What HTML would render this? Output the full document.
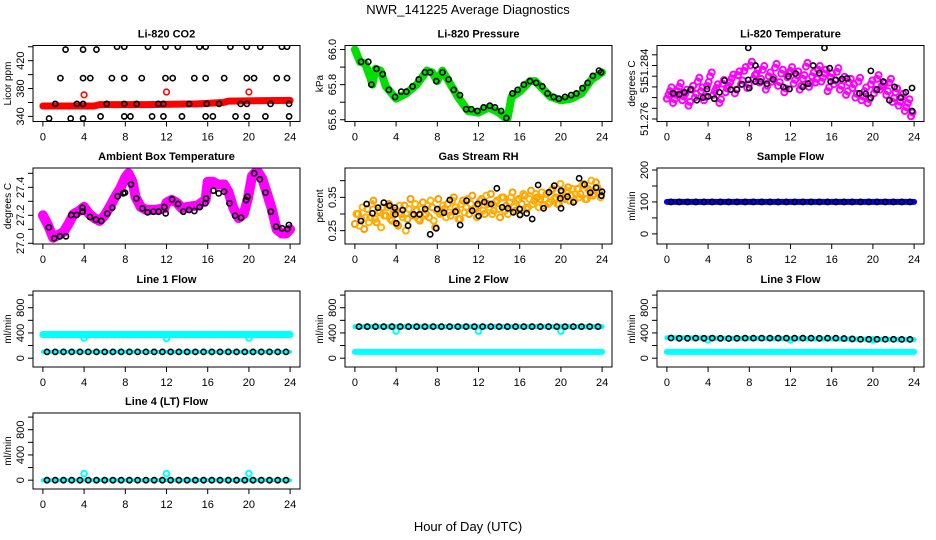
<!DOCTYPE html>
<html><head><meta charset="utf-8"><style>
html,body{margin:0;padding:0;background:#fff;}
svg{display:block;font-family:"Liberation Sans",sans-serif;}
</style></head><body>
<svg id="chart" width="936" height="540" viewBox="0 0 936 540" xmlns="http://www.w3.org/2000/svg">
<text x="468" y="14" text-anchor="middle" font-size="13">NWR_141225  Average Diagnostics</text>
<text x="468" y="531" text-anchor="middle" font-size="13">Hour of Day (UTC)</text>
</svg>
<script>
// ---------- DATA ----------
const xTicks = [0,4,8,12,16,20,24];
// CO2
const co2BandHours = [0,5,5.5,10,15,17.5,18,24];
const co2BandVals = [355,355,357,357,358,360,362,363];
const co2RedHours = [4,12,20];
const co2RedVals = [371,375,375];
const co2BlackHours = [7.2,7.9,10.2,11.9,13.1,15.2,15.8,18.2,19.8,21.1,23.2,23.7,2.2,3.9,5.2,1.7,3.9,4.6,6.7,7.9,9.6,11.9,12.6,14.7,15.8,17.6,19.8,20.5,22.7,23.7,1.2,3.3,3.9,6.2,7.9,9.1,11.2,11.7,14.2,15.9,17.1,19.2,19.8,22.1,23.9,5.6,7.9,8.5,10.6,11.7,13.5,15.8,16.5,18.7,19.8,21.6,23.9,0.6,2.7,3.9];
const co2BlackVals = [440,440,440,440,440,440,440,440,440,440,440,440,436,436,436,395,395,395,395,395,395,395,395,395,395,395,395,395,395,395,358,358,358,358,358,358,358,358,358,358,358,358,358,358,358,340,340,340,340,340,340,340,340,340,340,340,340,337,337,337];
// Pressure
const presBandHours = [0,0.5,1,1.5,1.7,2,2.5,3,4,5,6,7,7.5,8,8.5,9,10,11,12,13,14,14.8,15.2,16,17,17.5,18,19,20,21,22,23,24];
const presBandVals = [66.0,65.93,65.92,65.84,65.8,65.89,65.88,65.79,65.72,65.75,65.8,65.88,65.87,65.82,65.88,65.83,65.73,65.65,65.64,65.67,65.64,65.6,65.73,65.76,65.82,65.82,65.79,65.73,65.71,65.72,65.75,65.83,65.87];
const presBlackHours = [0.6,1.3,1.6,2.1,2.7,3.3,3.9,4.5,5.0,5.6,6.2,6.8,7.3,7.9,8.5,9.1,9.6,10.2,10.8,11.3,11.9,12.5,13.1,13.6,14.2,14.7,15.3,15.8,16.4,17.0,17.6,18.2,18.7,19.3,19.8,20.4,21.0,21.5,22.1,22.6,23.1,23.7,23.9];
const presBlackVals = [65.93,65.93,65.8,65.89,65.86,65.77,65.73,65.76,65.76,65.79,65.83,65.87,65.87,65.82,65.87,65.83,65.77,65.74,65.66,65.66,65.65,65.67,65.68,65.67,65.65,65.61,65.75,65.77,65.8,65.82,65.81,65.79,65.75,65.73,65.72,65.73,65.74,65.75,65.78,65.81,65.85,65.88,65.87];
// Li-820 temperature
const tempPinkHours = [0,0.3,0.6,0.9,1.2,1.5,1.8,2.1,2.4,2.7,3,3.3,3.6,3.9,4.2,4.5,4.8,5.1,5.4,5.7,6,6.3,6.6,6.9,7.2,7.5,7.8,8.1,8.4,8.7,9,9.3,9.6,9.9,10.2,10.5,10.8,11.1,11.4,11.7,12,12.3,12.6,12.9,13.2,13.5,13.8,14.1,14.4,14.7,15,15.3,15.6,15.9,16.2,16.5,16.8,17.1,17.4,17.7,18,18.3,18.6,18.9,19.2,19.5,19.8,20.1,20.4,20.7,21,21.3,21.6,21.9,22.2,22.5,22.8,23.1,23.4,23.7];
const tempPinkVals = [51.2798,51.2812,51.2790,51.2805,51.2820,51.2795,51.2808,51.2785,51.2815,51.2800,51.2830,51.2812,51.2795,51.2822,51.2840,51.2805,51.2818,51.2790,51.2826,51.2810,51.2822,51.2836,51.2808,51.2842,51.2825,51.2850,51.2818,51.2860,51.2835,51.2845,51.2828,51.2852,51.2815,51.2840,51.2830,51.2856,51.2822,51.2845,51.2810,51.2838,51.2850,51.2826,51.2842,51.2815,51.2835,51.2858,51.2820,51.2840,51.2828,51.2852,51.2830,51.2845,51.2812,51.2838,51.2825,51.2848,51.2815,51.2832,51.2805,51.2828,51.2818,51.2800,51.2830,51.2795,51.2812,51.2790,51.2825,51.2808,51.2835,51.2815,51.2820,51.2805,51.2828,51.2792,51.2810,51.2785,51.2800,51.2775,51.2790,51.2765];
const tempBlackHours = [0.6,1.2,1.7,2.3,2.9,3.5,3.9,4.0,4.6,5.1,5.6,6.2,6.8,7.3,7.9,8.0,8.6,7.9,8.6,9.1,9.7,10.3,11.3,11.8,11.9,12.5,13.2,13.7,14.2,14.8,15.3,15.8,15.9,16.4,17.0,17.5,18.7,19.3,19.8,19.8,20.4,21.0,21.6,22.1,22.7,23.2,23.8,23.8];
const tempBlackVals = [51.2808,51.2806,51.2810,51.2815,51.2795,51.2800,51.2816,51.2802,51.2798,51.2810,51.2832,51.2815,51.2815,51.2825,51.2833,51.2818,51.2830,51.2893,51.2860,51.2830,51.2826,51.2834,51.2820,51.2840,51.2816,51.2845,51.2820,51.2826,51.2860,51.2846,51.2893,51.2855,51.2830,51.2833,51.2835,51.2836,51.2808,51.2807,51.2850,51.2800,51.2815,51.2830,51.2795,51.2820,51.2800,51.2810,51.2818,51.2775];
const tempTickVals = [51.276,51.278,51.280,51.282,51.284,51.286,51.288];
const tempTickLabels = ['51.276','','','51','','51.284',''];
// Ambient box temperature
const ambBandHours = [0,0.5,1,1.5,2,2.5,3,3.5,4,4.5,5,5.5,6,6.5,7,7.5,8,8.3,8.7,9,9.5,10,11,11.8,12,12.5,13,13.5,14,15,15.8,16,16.5,17,17.6,18,18.5,19,19.5,19.9,20.3,20.8,21.3,21.7,22.2,22.7,23.2,23.6,24];
const ambBandVals = [27.2,27.13,27.04,27.06,27.08,27.14,27.21,27.23,27.26,27.21,27.18,27.16,27.2,27.26,27.33,27.39,27.47,27.5,27.44,27.33,27.26,27.24,27.24,27.25,27.29,27.31,27.29,27.25,27.26,27.27,27.31,27.44,27.44,27.42,27.42,27.37,27.25,27.18,27.21,27.32,27.48,27.52,27.46,27.37,27.25,27.1,27.07,27.07,27.1];
const ambBlackHours = [0.58,1.10,1.65,2.24,2.75,3.27,3.85,3.85,4.57,5.15,5.67,6.25,6.74,7.26,7.8,7.97,8.55,9.07,9.65,10.17,10.72,11.24,11.79,11.92,12.54,13.12,13.63,14.19,14.7,15.23,15.77,15.84,16.55,17.07,17.59,18.11,18.66,19.24,19.73,19.86,20.51,21.06,21.61,22.13,22.64,23.22,23.74,23.88];
const ambBlackVals = [27.114,27.036,27.05,27.05,27.202,27.202,27.254,27.226,27.188,27.169,27.16,27.212,27.254,27.336,27.357,27.362,27.421,27.321,27.25,27.221,27.226,27.226,27.259,27.214,27.314,27.281,27.226,27.238,27.231,27.259,27.286,27.321,27.376,27.357,27.369,27.286,27.197,27.183,27.309,27.333,27.5,27.457,27.362,27.226,27.119,27.107,27.102,27.131];
// Gas stream RH
const rhOrangeHours = tempPinkHours.slice();
const rhOrangeVals = [0.270,0.300,0.285,0.255,0.315,0.290,0.340,0.275,0.305,0.320,0.295,0.330,0.280,0.310,0.265,0.300,0.325,0.285,0.345,0.295,0.310,0.280,0.335,0.300,0.290,0.320,0.260,0.345,0.305,0.315,0.330,0.295,0.350,0.310,0.285,0.340,0.320,0.300,0.355,0.315,0.325,0.345,0.300,0.330,0.360,0.310,0.340,0.290,0.350,0.325,0.335,0.365,0.310,0.345,0.330,0.355,0.320,0.370,0.340,0.350,0.345,0.325,0.360,0.335,0.375,0.350,0.330,0.365,0.345,0.380,0.355,0.340,0.375,0.360,0.390,0.345,0.370,0.355,0.395,0.365];
const rhOrange2Vals = [0.300,0.265,0.320,0.290,0.275,0.330,0.285,0.310,0.260,0.295,0.320,0.285,0.305,0.270,0.325,0.290,0.250,0.315,0.300,0.330,0.285,0.315,0.295,0.325,0.340,0.280,0.310,0.300,0.325,0.290,0.305,0.340,0.320,0.285,0.330,0.305,0.345,0.330,0.315,0.290,0.340,0.310,0.355,0.320,0.300,0.335,0.315,0.350,0.310,0.300,0.350,0.320,0.340,0.300,0.360,0.315,0.345,0.330,0.360,0.320,0.365,0.345,0.330,0.370,0.345,0.330,0.390,0.350,0.370,0.340,0.375,0.360,0.350,0.385,0.345,0.375,0.400,0.360,0.380,0.350];
const rhBlackHours = [0.59,1.14,1.70,2.25,2.81,3.36,3.88,3.92,4.02,4.64,5.16,5.71,6.27,6.82,7.31,7.9,8.0,8.65,9.21,9.76,10.22,10.84,11.39,11.92,12.01,12.57,13.22,13.78,14.3,14.86,15.38,16.0,16.03,16.68,17.21,17.79,18.32,18.84,19.36,19.95,20.01,20.01,20.64,21.22,21.77,22.3,22.85,23.41,23.99,23.93];
const rhBlackVals = [0.279,0.330,0.302,0.319,0.334,0.325,0.319,0.299,0.272,0.312,0.265,0.299,0.299,0.315,0.239,0.257,0.315,0.304,0.342,0.307,0.267,0.340,0.310,0.330,0.294,0.336,0.330,0.377,0.320,0.317,0.305,0.315,0.297,0.302,0.285,0.387,0.317,0.365,0.385,0.347,0.370,0.317,0.352,0.335,0.407,0.389,0.364,0.379,0.367,0.355];
// Flows
const flowHours = [0.4,1.2,2.0,2.8,3.6,4.4,5.2,6.0,6.8,7.6,8.4,9.2,10.0,10.8,11.6,12.4,13.2,14.0,14.8,15.6,16.4,17.2,18.0,18.8,19.6,20.4,21.2,22.0,22.8,23.6];
const bandHours = [0,24];
const dipHours = [4,12,20];
const sampleBandVals = [100,100];
const sampleBlackVals = [100,100,100,100,100,100,100,100,100,100,100,100,100,100,100,100,100,100,100,100,100,100,100,100,100,100,100,100,100,100];
const line1CyanVals = [375,375];
const line1CyanLowVals = [100,100];
const line1DipVals = [320,312,320];
const line1BlackVals = [100,100,100,100,100,100,100,100,100,100,100,100,100,100,100,100,100,100,100,100,100,100,100,100,100,100,100,100,100,100];
const line2CyanVals = [500,500];
const line2CyanLowVals = [100,100];
const line2DipVals = [430,430,430];
const line2BlackVals = [500,500,500,500,500,500,500,500,500,500,500,500,500,500,500,500,500,500,500,500,500,500,500,500,500,500,500,500,500,500];
const line3CyanVals = [325,295];
const line3CyanLowVals = [100,100];
const line3DipVals = [290,290,290];
const line3BlackVals = [320,315,315,318,315,318,315,312,315,318,318,318,318,318,318,318,318,318,315,318,318,312,305,300,300,300,300,300,298,298];
const line4CyanVals = [0,0];
const line4DipVals = [105,105,105];
const line4BlackVals = [0,0,0,0,0,0,0,0,0,0,0,0,0,0,0,0,0,0,0,0,0,0,0,0,0,0,0,0,0,0];

// ---------- DRAWING ----------
const NS = 'http://www.w3.org/2000/svg';
const svg = document.getElementById('chart');
const rowTops = [45.5,168,291,413];
function el(tag, attrs, parent, name, inter) {
  const e = document.createElementNS(NS, tag);
  for (const k in attrs) e.setAttribute(k, attrs[k]);
  
  
  parent.appendChild(e);
  return e;
}
function panel(id, col, row, title, ylab, ylim, yTicks, yLabels) {
  const g = el('g', {}, svg, id + '-panel', false);
  const L = 33 + 312 * col, W = 267, T = rowTops[row], H = 76;
  const xlim = [-0.96, 24.96];
  const sx = h => L + (h - xlim[0]) / (xlim[1] - xlim[0]) * W;
  const sy = v => T + H - (v - ylim[0]) / (ylim[1] - ylim[0]) * H;
  const t = el('text', {x: L + W / 2, y: T - 8, 'text-anchor': 'middle', 'font-size': 11, 'font-weight': 'bold'}, g, id + '-title', false);
  t.textContent = title;
  const yt = el('text', {x: 0, y: 0, 'text-anchor': 'middle', 'font-size': 10, transform: `translate(${L - 22},${T + H / 2}) rotate(-90)`}, g, id + '-y-axis-title', false);
  yt.textContent = ylab;
  xTicks.forEach(h => {
    el('line', {x1: sx(h), x2: sx(h), y1: T + H, y2: T + H + 5, stroke: '#000', 'stroke-width': 1}, g, id + '-x-tick', false);
    const tx = el('text', {x: sx(h), y: T + H + 19, 'text-anchor': 'middle', 'font-size': 11}, g, id + '-x-tick-label', false);
    tx.textContent = h;
  });
  yTicks.forEach((v, i) => {
    el('line', {x1: L - 5, x2: L, y1: sy(v), y2: sy(v), stroke: '#000', 'stroke-width': 1}, g, id + '-y-tick', false);
    if (yLabels[i]) {
      const ty = el('text', {x: 0, y: 0, 'text-anchor': 'middle', 'font-size': 11, transform: `translate(${L - 9},${sy(v)}) rotate(-90)`}, g, id + '-y-tick-label', false);
      ty.textContent = yLabels[i];
    }
  });
  const clip = el('clipPath', {id: id + '-clip'}, g, id + '-clip', false);
  el('rect', {x: L, y: T, width: W, height: H}, clip, id + '-clip-rect', false);
  const plot = el('g', {'clip-path': `url(#${id}-clip)`}, g, id + '-plot-area', false);
  el('rect', {x: L, y: T, width: W, height: H, fill: 'none', stroke: '#000', 'stroke-width': 1}, g, id + '-frame', false);
  return {plot, sx, sy};
}
function band(p, hours, vals, color, w, name) {
  const pts = hours.map((h, i) => p.sx(h).toFixed(1) + ',' + p.sy(vals[i]).toFixed(1)).join(' ');
  el('polyline', {points: pts, fill: 'none', stroke: color, 'stroke-width': w, 'stroke-linejoin': 'round', 'stroke-linecap': 'round'}, p.plot, name, false);
}
function pts(p, hours, vals, color, r, sw, name) {
  hours.forEach((h, i) => {
    el('circle', {cx: p.sx(h), cy: p.sy(vals[i]), r: r, fill: 'none', stroke: color, 'stroke-width': sw}, p.plot, name, false);
  });
}
const flowTicks = [0,200,400,600,800,1000];
const flowLabels = ['0','','400','','800',''];
const flowLim = [-140,1065];

// Li-820 CO2
let p = panel('co2', 0, 0, 'Li-820 CO2', 'Licor ppm', [332.7,441.8], [340,360,380,400,420,440], ['340','','380','','420','']);
band(p, co2BandHours, co2BandVals, '#ff0000', 7, 'co2-red-band');
pts(p, co2RedHours, co2RedVals, '#ff0000', 2.8, 1.6, 'co2-red-point');
pts(p, co2BlackHours, co2BlackVals, '#000', 2.6, 1.6, 'co2-black-point');
// Pressure
p = panel('pressure', 1, 0, 'Li-820 Pressure', 'kPa', [65.59,66.023], [65.6,65.7,65.8,65.9,66.0], ['65.6','','65.8','','66.0']);
band(p, presBandHours, presBandVals, '#00e000', 8, 'pressure-green-band');
pts(p, presBlackHours, presBlackVals, '#000', 2.6, 1.6, 'pressure-black-point');
// Li-820 temperature
p = panel('li820temp', 2, 0, 'Li-820 Temperature', 'degrees C', [51.27553,51.28974], tempTickVals, tempTickLabels);
pts(p, tempPinkHours, tempPinkVals, '#ff00ff', 3, 2, 'li820temp-pink-point');
pts(p, tempPinkHours.map(h => h + 0.15), tempPinkVals.map(v => v + 0.0007), '#ff00ff', 3, 2, 'li820temp-pink-point');
pts(p, tempBlackHours, tempBlackVals, '#000', 2.6, 1.6, 'li820temp-black-point');
// Ambient
p = panel('ambient', 0, 1, 'Ambient Box Temperature', 'degrees C', [26.995,27.538], [27.0,27.1,27.2,27.3,27.4,27.5], ['27.0','','27.2','','27.4','']);
band(p, ambBandHours, ambBandVals, '#ff00ff', 10, 'ambient-magenta-band');
pts(p, ambBlackHours, ambBlackVals, '#000', 2.6, 1.6, 'ambient-black-point');
// RH
p = panel('rh', 1, 1, 'Gas Stream RH', 'percent', [0.210,0.438], [0.25,0.30,0.35,0.40], ['0.25','','0.35','']);
pts(p, rhOrangeHours, rhOrangeVals, '#ff9a00', 3, 2, 'rh-orange-point');
pts(p, rhOrangeHours.map(h => h + 0.15), rhOrange2Vals, '#ffb000', 3, 2, 'rh-orange-point');
pts(p, rhBlackHours, rhBlackVals, '#000', 2.6, 1.6, 'rh-black-point');
// Sample flow
p = panel('sampleflow', 2, 1, 'Sample Flow', 'ml/min', [-31.7,206.3], [0,50,100,150,200], ['0','','100','','200']);
band(p, bandHours, sampleBandVals, '#0000ff', 6, 'sampleflow-blue-band');
pts(p, flowHours, sampleBlackVals, '#000', 2.6, 1.6, 'sampleflow-black-point');
// Line 1
p = panel('line1', 0, 2, 'Line 1 Flow', 'ml/min', flowLim, flowTicks, flowLabels);
band(p, bandHours, line1CyanVals, '#00ffff', 7, 'line1-cyan-band');
band(p, bandHours, line1CyanLowVals, '#00ffff', 4, 'line1-cyan-low-band');
pts(p, dipHours, line1DipVals, '#00ffff', 2.8, 2, 'line1-cyan-point');
pts(p, flowHours, line1BlackVals, '#000', 2.6, 1.6, 'line1-black-point');
// Line 2
p = panel('line2', 1, 2, 'Line 2 Flow', 'ml/min', flowLim, flowTicks, flowLabels);
band(p, bandHours, line2CyanVals, '#00ffff', 5, 'line2-cyan-band');
band(p, bandHours, line2CyanLowVals, '#00ffff', 6, 'line2-cyan-low-band');
pts(p, dipHours, line2DipVals, '#00ffff', 2.8, 2, 'line2-cyan-point');
pts(p, flowHours, line2BlackVals, '#000', 2.6, 1.6, 'line2-black-point');
// Line 3
p = panel('line3', 2, 2, 'Line 3 Flow', 'ml/min', flowLim, flowTicks, flowLabels);
band(p, bandHours, line3CyanVals, '#00ffff', 5, 'line3-cyan-band');
band(p, bandHours, line3CyanLowVals, '#00ffff', 6, 'line3-cyan-low-band');
pts(p, dipHours, line3DipVals, '#00ffff', 2.8, 2, 'line3-cyan-point');
pts(p, flowHours, line3BlackVals, '#000', 2.6, 1.6, 'line3-black-point');
// Line 4
p = panel('line4', 0, 3, 'Line 4 (LT) Flow', 'ml/min', flowLim, flowTicks, flowLabels);
band(p, bandHours, line4CyanVals, '#00ffff', 4, 'line4-cyan-band');
pts(p, dipHours, line4DipVals, '#00ffff', 2.8, 2, 'line4-cyan-point');
pts(p, flowHours, line4BlackVals, '#000', 2.6, 1.6, 'line4-black-point');
</script>
</body></html>
